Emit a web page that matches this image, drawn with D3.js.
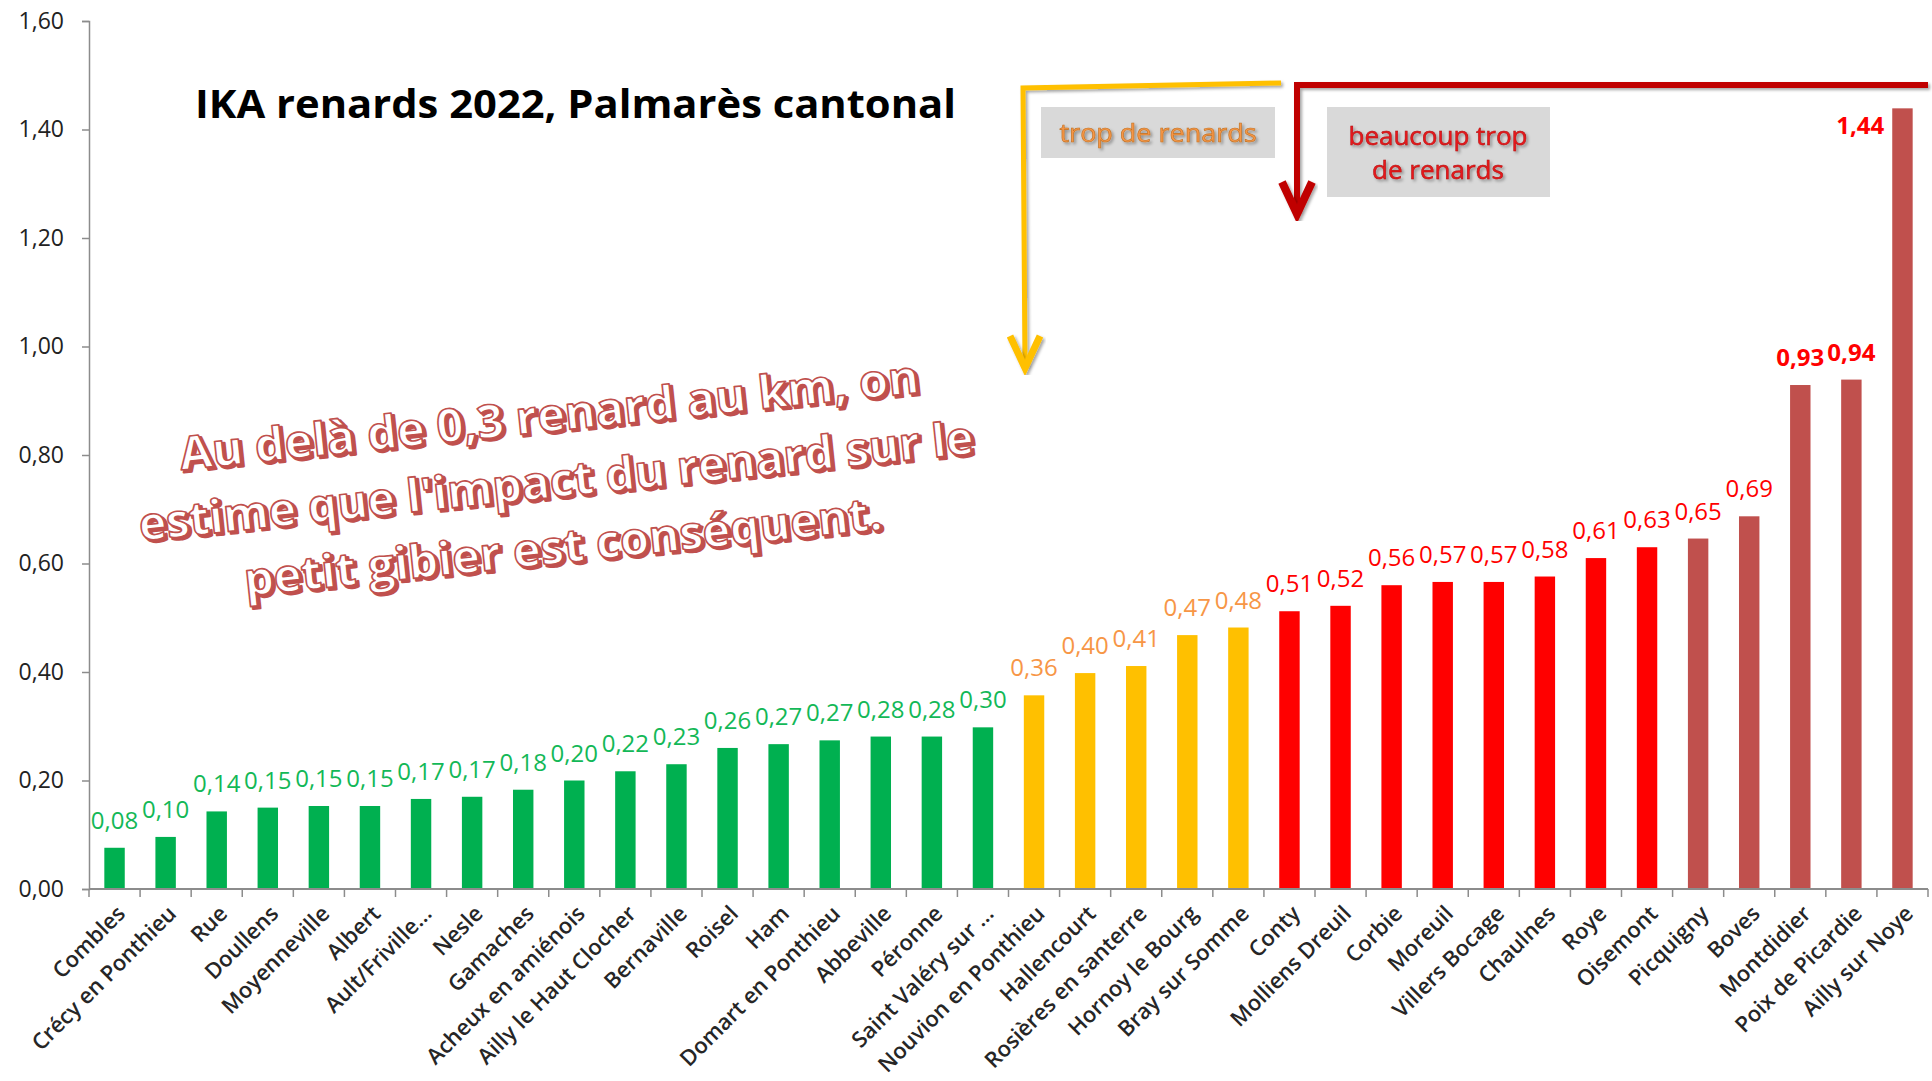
<!DOCTYPE html>
<html>
<head>
<meta charset="utf-8">
<script src="https://cdn.jsdelivr.net/npm/d3@7"></script>
<style>
  body { margin: 0; background: #fff; }
  svg { display: block; }
</style>
</head>
<body>
<div id="chart"></div>
<script>
// cantons, dans l'ordre du graphique
var cantons = ["Combles", "Crécy en Ponthieu", "Rue", "Doullens", "Moyenneville", "Albert",
    "Ault/Friville...", "Nesle", "Gamaches", "Acheux en amiénois", "Ailly le Haut Clocher",
    "Bernaville", "Roisel", "Ham", "Domart en Ponthieu", "Abbeville", "Péronne",
    "Saint Valéry sur ...", "Nouvion en Ponthieu", "Hallencourt", "Rosières en santerre",
    "Hornoy le Bourg", "Bray sur Somme", "Conty", "Molliens Dreuil", "Corbie", "Moreuil",
    "Villers Bocage", "Chaulnes", "Roye", "Oisemont", "Picquigny", "Boves", "Montdidier",
    "Poix de Picardie", "Ailly sur Noye"];

// IKA (renards / km)
var ika = [0.076, 0.096, 0.143, 0.150, 0.153, 0.153, 0.166, 0.170, 0.183, 0.200, 0.217,
    0.230, 0.260, 0.267, 0.274, 0.281, 0.281, 0.298, 0.357, 0.398, 0.411, 0.468, 0.482,
    0.512, 0.522, 0.560, 0.566, 0.566, 0.576, 0.610, 0.630, 0.646, 0.687, 0.929, 0.939, 1.439];

var yTicks = [0, 0.2, 0.4, 0.6, 0.8, 1.0, 1.2, 1.4, 1.6];

var seuils = [0.3, 0.5, 0.64];
var couleursBarres = ["#00b050", "#ffc000", "#ff0000", "#c0504d"];
var couleursLabels = ["#13b857", "#f79646", "#ff0000", "#ff0000"];

var texteNote = ["Au delà de 0,3 renard au km, on",
    "estime que l'impact du renard sur le",
    "petit gibier est conséquent."];

var width = 1932,
    height = 1081;

var svg = d3.select("#chart")
    .append("svg")
    .attr("width", width)
    .attr("height", height);

var defs = svg.append("defs");

var sh = defs.append("filter").attr("id", "ombre")
    .attr("x", "-20%").attr("y", "-20%").attr("width", "140%").attr("height", "140%");
sh.append("feDropShadow").attr("dx", 2).attr("dy", 2).attr("stdDeviation", 1.5)
    .attr("flood-color", "#000").attr("flood-opacity", 0.35);

var data = cantons.map(function (c, i) {
    return {nom: c, v: ika[i]};
});

var x = d3.scaleBand()
    .domain(cantons)
    .range([89, 1928])
    .paddingInner(0.6)
    .paddingOuter(0.3);

var y = d3.scaleLinear().domain([0, 1.6]).range([889, 21]);

var niveau = d3.scaleThreshold().domain(seuils).range([0, 1, 2, 3]);
var fmt = function (v) { return d3.format(".2f")(v).replace(".", ","); };

// axe Y
var yAxis = d3.axisLeft(y)
    .tickValues(yTicks)
    .tickSize(7)
    .tickPadding(18)
    .tickFormat(fmt);

var gy = svg.append("g")
    .attr("transform", "translate(89,0)")
    .call(yAxis);
gy.select(".domain").attr("stroke", "#8c8c8c").attr("stroke-width", 1.5);
gy.selectAll(".tick line").attr("stroke", "#8c8c8c").attr("stroke-width", 1.5);
gy.selectAll(".tick text")
    .attr("font-family", "'Open Sans', sans-serif")
    .attr("font-size", 23)
    .attr("fill", "#222");

// barres
svg.selectAll(".barre")
    .data(data)
    .enter().append("rect")
    .attr("class", "barre")
    .attr("x", function (d) { return x(d.nom); })
    .attr("width", x.bandwidth())
    .attr("y", function (d) { return y(d.v); })
    .attr("height", function (d) { return y(0) - y(d.v); })
    .attr("fill", function (d) { return couleursBarres[niveau(d.v)]; });

// axe X
svg.append("line")
    .attr("x1", 89).attr("x2", 1928)
    .attr("y1", y(0)).attr("y2", y(0))
    .attr("stroke", "#8c8c8c").attr("stroke-width", 2);

svg.selectAll(".xtick")
    .data(cantons.concat(["fin"]))
    .enter().append("line")
    .attr("class", "xtick")
    .attr("x1", function (d, i) { return 89 + i * x.step(); })
    .attr("x2", function (d, i) { return 89 + i * x.step(); })
    .attr("y1", y(0)).attr("y2", y(0) + 8)
    .attr("stroke", "#8c8c8c").attr("stroke-width", 1.5);

svg.selectAll(".xlabel")
    .data(data)
    .enter().append("text")
    .attr("class", "xlabel")
    .attr("transform", function (d) {
        return "translate(" + (x(d.nom) + x.bandwidth() / 2 + 12) + "," + (y(0) + 26) + ") rotate(-45)";
    })
    .attr("text-anchor", "end")
    .attr("font-family", "'Open Sans', sans-serif")
    .attr("font-size", 22)
    .attr("font-weight", 600)
    .attr("fill", "#262626")
    .text(function (d) { return d.nom; });

// etiquettes de valeurs (la derniere est a gauche de la barre, faute de place)
svg.selectAll(".valeur")
    .data(data)
    .enter().append("text")
    .attr("class", "valeur")
    .attr("x", function (d) {
        return y(d.v) < 120 ? x(d.nom) - 8 : x(d.nom) + x.bandwidth() / 2;
    })
    .attr("y", function (d) { return y(d.v) < 120 ? y(d.v) + 26 : y(d.v) - 19; })
    .attr("text-anchor", function (d) { return y(d.v) < 120 ? "end" : "middle"; })
    .attr("font-family", "'Open Sans', sans-serif")
    .attr("font-size", 24)
    .attr("font-weight", function (d) { return d.v > 0.9 ? "bold" : "normal"; })
    .attr("fill", function (d) { return couleursLabels[niveau(d.v)]; })
    .text(function (d) { return fmt(d.v); });

// titre
svg.append("text")
    .attr("x", 195)
    .attr("y", 118)
    .attr("font-family", "'Open Sans', sans-serif")
    .attr("font-weight", 700)
    .attr("font-size", 40)
    .attr("textLength", 761)
    .attr("lengthAdjust", "spacingAndGlyphs")
    .attr("fill", "#000")
    .text("IKA renards 2022, Palmarès cantonal");

// fleche jaune
svg.append("polyline")
    .attr("points", "1281,83 1023,88 1025,366")
    .attr("fill", "none")
    .attr("stroke", "#ffc000")
    .attr("stroke-width", 5)
    .attr("filter", "url(#ombre)");
svg.append("polyline")
    .attr("points", "1010,336 1025,368 1040,336")
    .attr("fill", "none")
    .attr("stroke", "#ffc000")
    .attr("stroke-width", 7)
    .attr("filter", "url(#ombre)");

// fleche rouge
svg.append("polyline")
    .attr("points", "1928,85 1297,85 1297,212")
    .attr("fill", "none")
    .attr("stroke", "#c00000")
    .attr("stroke-width", 6)
    .attr("filter", "url(#ombre)");
svg.append("polyline")
    .attr("points", "1282,182 1297,214 1312,182")
    .attr("fill", "none")
    .attr("stroke", "#c00000")
    .attr("stroke-width", 8)
    .attr("filter", "url(#ombre)");

// encadres
svg.append("rect")
    .attr("x", 1041).attr("y", 107).attr("width", 234).attr("height", 51)
    .attr("fill", "#d9d9d9");
svg.append("text")
    .attr("x", 1158).attr("y", 142)
    .attr("text-anchor", "middle")
    .attr("font-family", "'Open Sans', sans-serif")
    .attr("font-size", 26)
    .attr("textLength", 197)
    .attr("lengthAdjust", "spacingAndGlyphs")
    .attr("fill", "#f79646")
    .attr("stroke", "#c07020").attr("stroke-width", 0.6)
    .attr("filter", "url(#ombre)")
    .text("trop de renards");

svg.append("rect")
    .attr("x", 1327).attr("y", 107).attr("width", 223).attr("height", 90)
    .attr("fill", "#d9d9d9");
svg.append("text")
    .attr("x", 1438).attr("y", 145)
    .attr("text-anchor", "middle")
    .attr("font-family", "'Open Sans', sans-serif")
    .attr("font-size", 26)
    .attr("fill", "#e8191b")
    .attr("stroke", "#b01010").attr("stroke-width", 0.5)
    .attr("filter", "url(#ombre)")
    .selectAll("tspan")
    .data(["beaucoup trop", "de renards"])
    .enter().append("tspan")
    .attr("x", 1438)
    .attr("dy", function (d, i) { return i === 0 ? 0 : 34; })
    .text(function (d) { return d; });

// note inclinee
var note = svg.append("g")
    .attr("transform", "translate(556,481) rotate(-6)");
var largeurs = [743, 839, 641];
[[2.5, 2.5, "#c0504d", 2.5], [0, 0, "#fff", 1.6]].forEach(function (p) {
    note.selectAll(null)
        .data(texteNote)
        .enter().append("text")
        .attr("x", p[0])
        .attr("y", function (d, i) { return (i - 1) * 66 + 16 + p[1]; })
        .attr("text-anchor", "middle")
        .attr("font-family", "'Open Sans', sans-serif")
        .attr("font-weight", 700)
        .attr("font-size", 46)
        .attr("textLength", function (d, i) { return largeurs[i]; })
        .attr("lengthAdjust", "spacingAndGlyphs")
        .attr("fill", p[2])
        .attr("stroke", "#c0504d")
        .attr("stroke-width", p[3])
        .attr("stroke-linejoin", "round")
        .text(function (d) { return d; });
});
</script>
</body>
</html>
